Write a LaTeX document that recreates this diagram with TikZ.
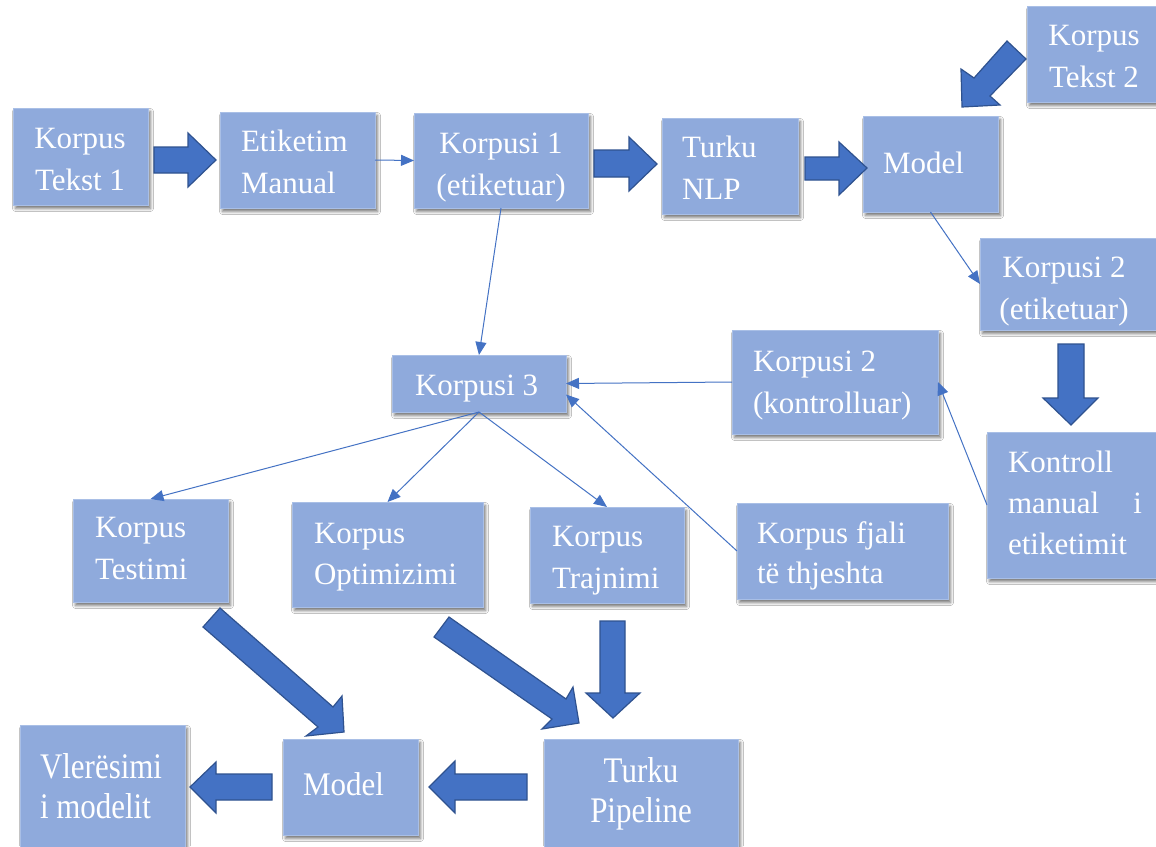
\documentclass[tikz,border=0pt]{standalone}
\usepackage{fontspec}
\setmainfont{LiberationSerif}[Extension=.ttf, UprightFont=*-Regular, BoldFont=*-Bold, ItalicFont=*-Italic, BoldItalicFont=*-BoldItalic]
\usepackage{graphicx}
\usetikzlibrary{arrows.meta,fit,calc,shadows.blur}
\definecolor{boxfill}{HTML}{8FAADC}
\definecolor{boxedge}{HTML}{A9BFE6}
\definecolor{accent}{HTML}{4472C4}
\definecolor{accentdark}{HTML}{2F528F}
% multi-line labels: top of the block = first baseline - 0.7\baselineskip
\newcommand{\LinesL}[1]{\begin{tabular}{@{}l@{}}#1\end{tabular}}
\newcommand{\LinesC}[1]{\begin{tabular}{@{}c@{}}#1\end{tabular}}
\tikzset{
  box/.style={rectangle, inner sep=0pt, outer sep=0pt, fill=boxfill,
    draw=boxedge, line width=1pt,
    blur shadow={shadow xshift=2.5pt, shadow yshift=-3.5pt,
      shadow blur radius=3pt, shadow opacity=55}},
  lbl/.style={inner sep=0pt, outer sep=0pt, text=white,
    font=\fontsize{31}{42}\selectfont},
  link/.style={draw=accent, line width=1pt,
    -{Triangle[length=13pt,width=11pt]}},
  blockarrow/.style={fill=accent, draw=accentdark, line width=1.2pt,
    line join=miter},
}
\begin{document}
\begin{tikzpicture}[x=1pt, y=-1pt]
\useasboundingbox (0,0) rectangle (1156,846);
\clip (0,0) rectangle (1156,846);
\fill[white] (0,0) rectangle (1156,846);

% ---- boxes ----
\node[box, fit={(13,108) (148,205)}]   (kt1)  {};
\node[box, fit={(220,112) (375,208)}]  (etik) {};
\node[box, fit={(414,113) (588,208)}]  (k1)   {};
\node[box, fit={(662,118) (798,214)}]  (tnlp) {};
\node[box, fit={(863,116) (998,212)}]  (mt)   {};
\node[box, fit={(1027,6) (1162,102)}]  (kt2)  {};
\node[box, fit={(980,238) (1160,330)}] (k2e)  {};
\node[box, fit={(392,355) (566,412)}]  (k3)   {};
\node[box, fit={(732,330) (938,434)}]  (k2k)  {};
\node[box, fit={(987,432) (1170,578)}] (kon)  {};
\node[box, fit={(73,499) (228,602)}]   (kte)  {};
\node[box, fit={(292,502) (483,607)}]  (kop)  {};
\node[box, fit={(530,507) (684,603)}]  (ktr)  {};
\node[box, fit={(737,503) (948,599)}]  (kf)   {};
\node[box, fit={(20,725) (185,870)}]   (vm)   {};
\node[box, fit={(283,739) (418,835)}]  (mb)   {};
\node[box, fit={(544,739) (738,870)}]  (tp)   {};

% ---- labels ----
\node[lbl, anchor=north]      (tkt1)  at (80,118.6)    {\LinesC{Korpus\\Tekst 1}};
\node[lbl, anchor=north west] (tetik) at (241,121.6)   {\LinesL{Etiketim\\Manual}};
\node[lbl, anchor=north]      (tk1)   at (501,123.6)   {\LinesC{Korpusi 1\\(etiketuar)}};
\node[lbl, anchor=north west] (ttnlp) at (682,127.6)   {\LinesL{Turku\\NLP}};
\node[lbl, anchor=base west]  (tmt)   at (883,173)     {Model};
\node[lbl, anchor=north]      (tkt2)  at (1094,15.6)   {\LinesC{Korpus\\Tekst 2}};
\node[lbl, anchor=north]      (tk2e)  at (1064,247.6)  {\LinesC{Korpusi 2\\(etiketuar)}};
\node[lbl, anchor=base west]  (tk3)   at (415,395)     {Korpusi 3};
\node[lbl, anchor=north west] (tk2k)  at (753,341.6)   {\LinesL{Korpusi 2\\(kontrolluar)}};
\node[lbl, anchor=north west, font=\fontsize{31}{41}\selectfont]
                              (tkon)  at (1008,443.3)  {\LinesL{Kontroll\\manual\hspace{34pt}i\\etiketimit}};
\node[lbl, anchor=north west] (tkte)  at (95,507.6)    {\LinesL{Korpus\\Testimi}};
\node[lbl, anchor=north west, font=\fontsize{31}{41}\selectfont]
                              (tkop)  at (314,514.3)   {\LinesL{Korpus\\Optimizimi}};
\node[lbl, anchor=north west] (tktr)  at (552,516.6)   {\LinesL{Korpus\\Trajnimi}};
\node[lbl, anchor=north west, font=\fontsize{31}{40}\selectfont]
                              (tkf)   at (757,515)     {\LinesL{Korpus fjali\\të thjeshta}};
\node[lbl, anchor=north west] (tvm)   at (40,750)
  {\scalebox{0.86}[1]{\fontsize{36}{40}\selectfont\LinesL{Vlerësimi\\i modelit}}};
\node[lbl, anchor=base west]  (tmb)   at (303,795)
  {\scalebox{0.94}[1]{\fontsize{33}{40}\selectfont Model}};
\node[lbl, anchor=north]      (ttp)   at (641,754)
  {\scalebox{0.86}[1]{\fontsize{36}{40}\selectfont\LinesC{Turku\\Pipeline}}};

% ---- thin connectors ----
\draw[link] (etik.east) -- (k1.west);
\draw[link] (k1.south) -- (k3.north);
\draw[link] (mt.south) -- (k2e.west);
\draw[link] (k2k.west) -- (k3.east);
\draw[link] (kon.west) -- (k2k.east);
\draw[link] (k3.south) -- (kte.north);
\draw[link] (k3.south) -- (kop.north);
\draw[link] (k3.south) -- (ktr.north);
\draw[link] (kf.west) -- ($(k3.east)+(0,11)$);

% ---- block arrows ----
\draw[blockarrow] (154,147) -- (188,147) -- (188,133) -- (216,160) -- (188,187) -- (188,173) -- (154,173) -- cycle;
\draw[blockarrow] (594,150) -- (629,150) -- (629,137) -- (657,164) -- (629,191) -- (629,177) -- (594,177) -- cycle;
\draw[blockarrow] (805,157) -- (839,157) -- (839,142) -- (867,168) -- (839,195) -- (839,180) -- (805,180) -- cycle;
\draw[blockarrow] (1007,41) -- (1026,59) -- (990,96) -- (1000,105) -- (962,107) -- (961,69) -- (974,78) -- cycle;
\draw[blockarrow] (1058,344) -- (1084,344) -- (1084,398) -- (1098,398) -- (1071,425) -- (1043,398) -- (1058,398) -- cycle;
\draw[blockarrow] (220,608) -- (203,627) -- (318,727) -- (306,736) -- (344,732) -- (342,696) -- (333,707) -- cycle;
\draw[blockarrow] (449,617) -- (434,637) -- (552,719) -- (542,729) -- (579,723) -- (573,687) -- (566,699) -- cycle;
\draw[blockarrow] (600,621) -- (625,621) -- (625,693) -- (640,693) -- (613,718) -- (586,693) -- (600,693) -- cycle;
\draw[blockarrow] (527,774) -- (455,774) -- (455,761) -- (429,787) -- (455,813) -- (455,800) -- (527,800) -- cycle;
\draw[blockarrow] (272,774) -- (216,774) -- (216,762) -- (190,787) -- (216,813) -- (216,800) -- (272,800) -- cycle;
\end{tikzpicture}
\end{document}
